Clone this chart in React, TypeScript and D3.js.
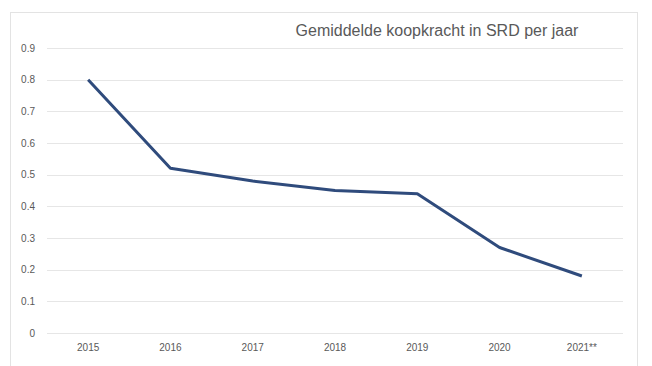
import React from 'react';
import * as d3 from 'd3';

const years = ['2015', '2016', '2017', '2018', '2019', '2020', '2021**'];
const koopkracht = [0.8, 0.52, 0.48, 0.45, 0.44, 0.27, 0.18];
const yTicks = [0, 0.1, 0.2, 0.3, 0.4, 0.5, 0.6, 0.7, 0.8, 0.9];

const W = 652;
const H = 366;
const plot = { left: 47, right: 623, top: 48, bottom: 333 };
const font = '"Liberation Sans", Arial, sans-serif';

const App = () => {
  const x = d3.scaleBand().domain(years).range([plot.left, plot.right]);
  const y = d3.scaleLinear().domain([0, 0.9]).range([plot.bottom, plot.top]);

  const line = d3.line<number>()
    .x((_, i) => x(years[i])! + x.bandwidth() / 2)
    .y(d => y(d));

  return (
    <svg width={W} height={H} style={{ position: 'absolute', left: 0, top: 0, background: '#fff' }}>
      <rect x={10.5} y={12.5} width={627} height={H} fill="#fff" stroke="#e3e3e3" />
      <text x={437} y={36} textAnchor="middle" fontFamily={font} fontSize={16} fill="#595959">
        Gemiddelde koopkracht in SRD per jaar
      </text>
      {yTicks.map(t => (
        <g key={t}>
          <line x1={plot.left} x2={plot.right} y1={Math.round(y(t)) + 0.5} y2={Math.round(y(t)) + 0.5} stroke="#e6e6e6" />
          <text x={35} y={y(t)} dy="0.35em" textAnchor="end" fontFamily={font} fontSize={10} fill="#595959">
            {t === 0 ? '0' : d3.format('.1f')(t)}
          </text>
        </g>
      ))}
      {years.map(yr => (
        <text key={yr} x={x(yr)! + x.bandwidth() / 2} y={351} textAnchor="middle" fontFamily={font} fontSize={10} fill="#595959">
          {yr}
        </text>
      ))}
      <path d={line(koopkracht) ?? ''} fill="none" stroke="#2f4b7c" strokeWidth={3} strokeLinejoin="round" />
    </svg>
  );
};

export default App;
